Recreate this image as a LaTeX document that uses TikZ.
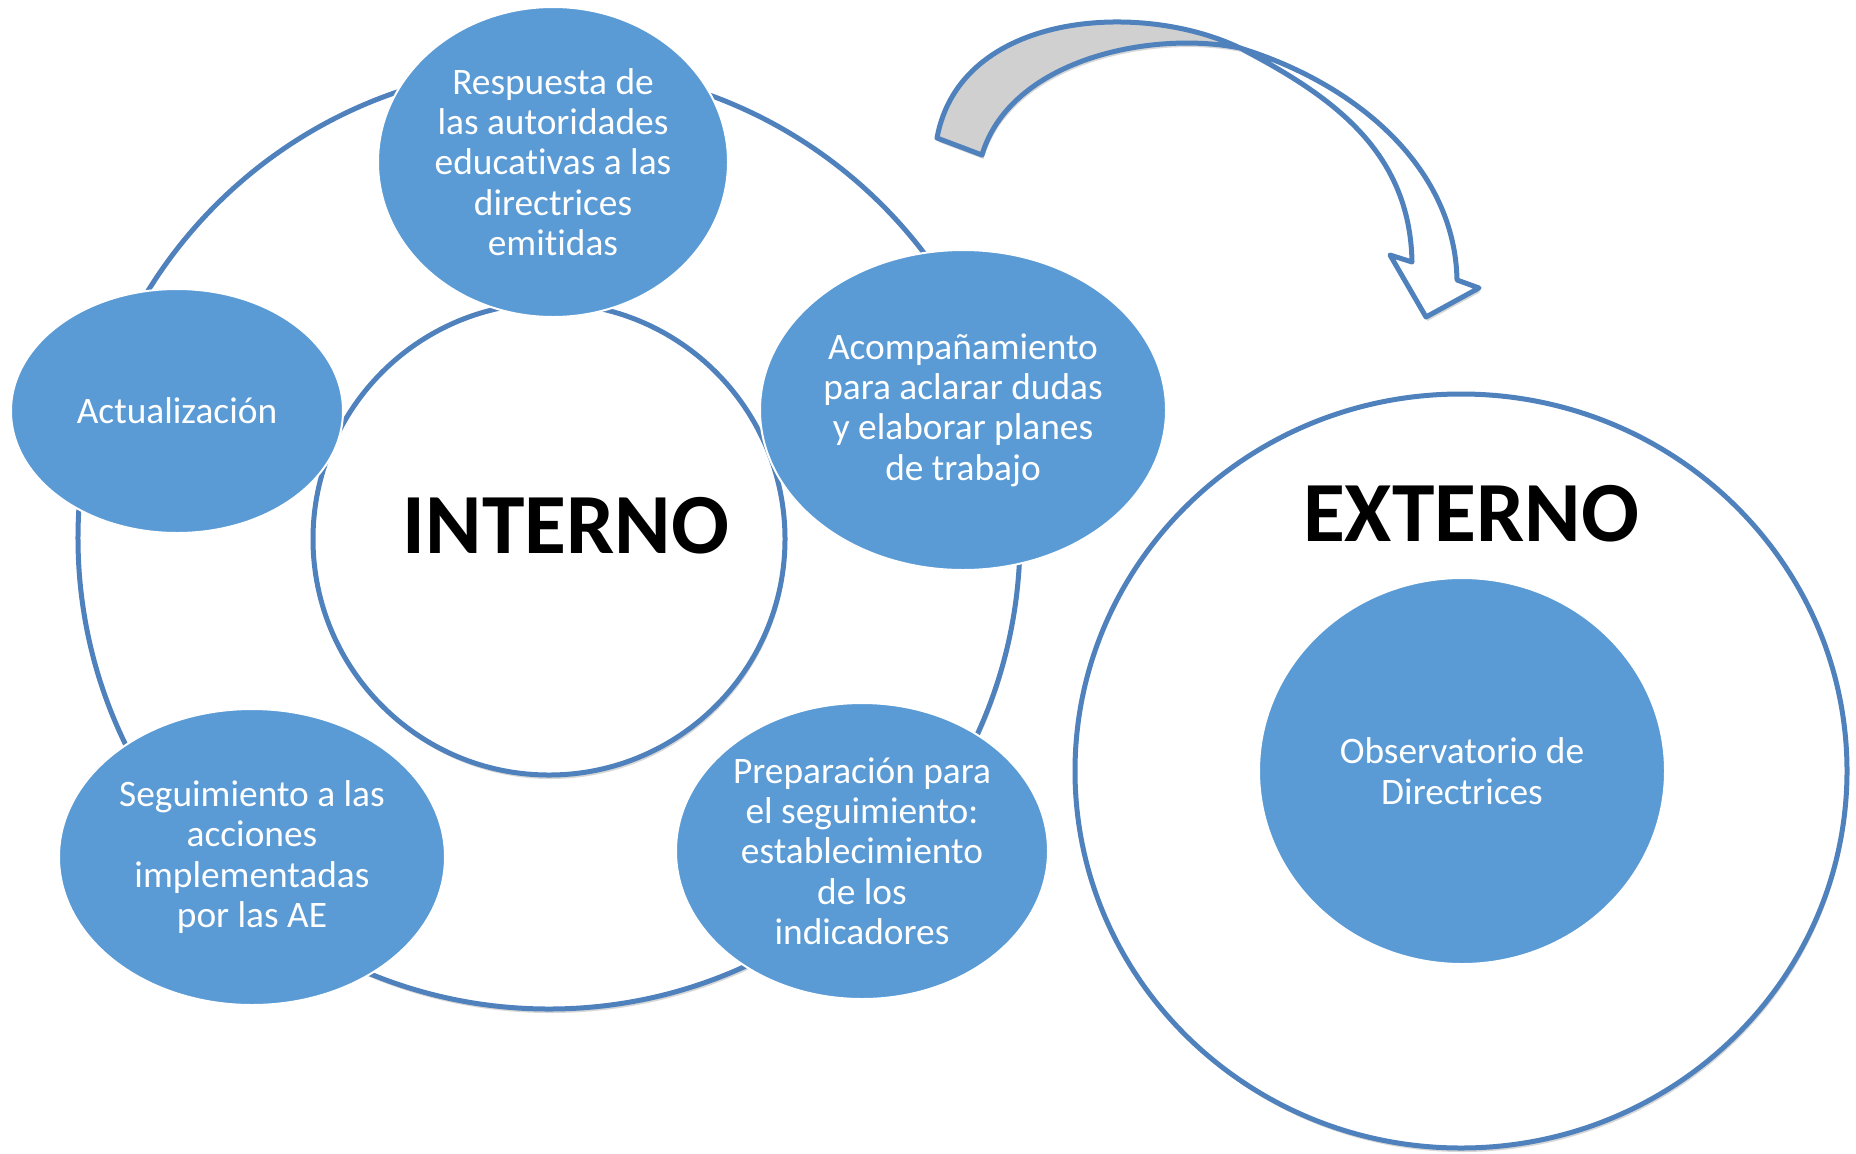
\documentclass[tikz,border=0pt]{standalone}
\usepackage{fontspec}
\setmainfont{Carlito}[Ligatures={NoCommon}]
\usetikzlibrary{shapes.geometric,shadows}
\definecolor{ringblue}{RGB}{79,129,189}
\definecolor{bubbleblue}{RGB}{91,155,213}
\definecolor{arrowgray}{RGB}{208,208,208}
\newcommand\myBody{\fontsize{37.5}{40.5}\selectfont}
\newcommand\myBig{\fontsize{86}{90}\selectfont\bfseries}
\tikzset{
  softshadow/.style={drop shadow={opacity=0.22,shadow xshift=1.5bp,shadow yshift=-4bp,fill=black!70}},
  ring/.style={ellipse, draw=ringblue, line width=5bp, fill=white, softshadow, inner sep=0pt},
  bubble/.style={ellipse, fill=bubbleblue, draw=white, line width=2bp, text=white,
                 font=\myBody, align=center, inner sep=0pt},
  bigword/.style={font=\myBig, text=black, inner sep=0pt},
  arrowline/.style={draw=ringblue, line width=5bp, line join=round, softshadow},
}
\begin{document}
\begin{tikzpicture}[x=1bp,y=-1bp]
\useasboundingbox[fill=white] (0,0) rectangle (1856,1153);

% INTERNO cycle
\node[ring, minimum width=942bp, minimum height=942bp] (outerRing) at (549,538) {};
\node[ring, minimum width=472bp, minimum height=472bp] (innerCircle) at (549,539) {};

\node[bubble, minimum width=350bp, minimum height=310bp] (respuesta) at (553,162)
  {Respuesta de\\las autoridades\\educativas a las\\directrices\\emitidas};
\node[bubble, minimum width=406bp, minimum height=320bp] (acomp) at (963,410)
  {Acompañamiento\\para aclarar dudas\\y elaborar planes\\de trabajo};
\node[bubble, minimum width=372bp, minimum height=296bp] (prep) at (862,851)
  {Preparación para\\el seguimiento:\\establecimiento\\de los\\indicadores};
\node[bubble, minimum width=386bp, minimum height=296bp] (seguim) at (252,857)
  {Seguimiento a las\\acciones\\implementadas\\por las AE};
\node[bubble, minimum width=332bp, minimum height=244bp] (actual) at (177,411)
  {Actualización};

\node[bigword] (interno) at (566,526) {INTERNO};

% EXTERNO
\node[ring, minimum width=772bp, minimum height=754bp] (externoCircle) at (1461,771) {};
\node[bigword] (externo) at (1471,514) {EXTERNO};
\node[bubble, minimum width=406bp, minimum height=386bp] (observ) at (1462,771)
  {Observatorio de\\Directrices};

% curved arrow
\coordinate (tA) at (937,138);
\coordinate (tB) at (982,155);
\coordinate (tX) at (1240,48);
\coordinate (hR) at (1457,280);
\coordinate (hRb) at (1479,288);
\coordinate (hT) at (1426,317);
\coordinate (hLb) at (1390,255);
\coordinate (hL) at (1412,262);

\draw[arrowline, fill=white] (tX) .. controls (1360,85) and (1455,170) .. (hR)
  -- (hRb) -- (hT) -- (hLb) -- (hL) .. controls (1410,150) and (1330,95) .. (tX) -- cycle;
\draw[arrowline, fill=arrowgray] (tA) .. controls (960,12) and (1140,0) .. (tX)
  .. controls (1150,30) and (1010,60) .. (tB) -- cycle;
\end{tikzpicture}
\end{document}
